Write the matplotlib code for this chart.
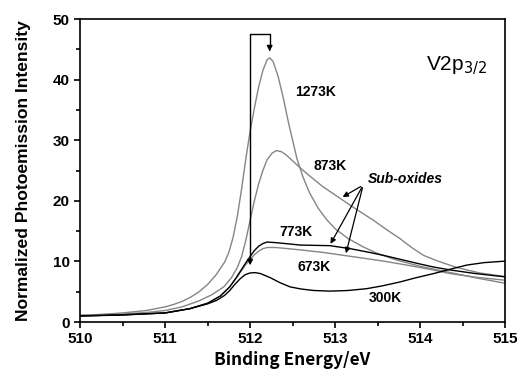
import matplotlib
matplotlib.use("Agg")
from matplotlib import pyplot as plt
from matplotlib.ticker import MultipleLocator

# Binding energies and intensities (per curve)
e_1273 = [510.0, 510.3, 510.5, 510.78, 511.0, 511.1, 511.2, 511.3, 511.4, 511.5,
          511.6, 511.7, 511.75, 511.8, 511.85, 511.9, 511.95, 512.0, 512.05, 512.1,
          512.15, 512.2, 512.23, 512.27, 512.33, 512.39, 512.45, 512.5, 512.55, 512.62,
          512.7, 512.8, 512.9, 513.0, 513.15, 513.33, 513.5, 513.73, 514.0, 514.31,
          514.65, 515.0]
i_1273 = [1.1, 1.3, 1.5, 1.9, 2.5, 2.9, 3.4, 4.1, 5.0, 6.2,
          7.8, 9.9, 11.5, 14.0, 17.5, 22.0, 27.0, 31.5, 35.3, 38.8,
          41.5, 43.3, 43.6, 43.0, 40.5, 37.0, 33.0, 30.0, 27.0, 24.0,
          21.3, 18.8, 16.9, 15.4, 13.8, 12.4, 11.3, 10.2, 9.2, 8.3,
          7.3, 6.4]

e_873 = [510.0, 510.5, 510.8, 511.0, 511.2, 511.4, 511.55, 511.69, 511.78, 511.85,
         511.9, 511.95, 512.0, 512.05, 512.1, 512.15, 512.2, 512.26, 512.31, 512.37,
         512.43, 512.5, 512.6, 512.71, 512.85, 513.06, 513.25, 513.45, 513.6, 513.76,
         513.9, 514.04, 514.2, 514.43, 514.7, 515.0]
i_873 = [1.1, 1.3, 1.6, 1.9, 2.5, 3.5, 4.5, 5.8, 7.3, 9.0,
         10.8, 13.5, 16.8, 20.0, 22.8, 25.0, 26.8, 27.9, 28.3, 28.1,
         27.5, 26.6, 25.3, 24.0, 22.4, 20.4, 18.6, 16.8, 15.3, 13.8,
         12.3, 11.0, 10.1, 9.0, 8.1, 7.5]

e_773 = [510.0, 510.5, 511.0, 511.29, 511.5, 511.65, 511.76, 511.83, 511.9, 511.95,
         512.0, 512.05, 512.1, 512.15, 512.2, 512.3, 512.45, 512.59, 512.94, 513.18,
         513.4, 513.57, 513.75, 513.96, 514.15, 514.35, 514.65, 515.0]
i_773 = [1.0, 1.2, 1.5, 2.2, 3.1, 4.3, 5.8, 7.2, 8.7, 9.8,
         10.8, 11.8, 12.5, 12.95, 13.2, 13.1, 12.9, 12.7, 12.6, 12.1,
         11.5, 11.0, 10.4, 9.7, 9.1, 8.6, 8.0, 7.45]

e_673 = [510.0, 510.5, 511.0, 511.29, 511.5, 511.65, 511.76, 511.83, 511.9, 511.95,
         512.0, 512.05, 512.1, 512.15, 512.2, 512.3, 512.45, 512.59, 512.85, 513.1,
         513.35, 513.57, 513.76, 513.96, 514.15, 514.35, 514.65, 515.0]
i_673 = [1.0, 1.2, 1.5, 2.2, 3.1, 4.3, 5.8, 7.1, 8.5, 9.5,
         10.3, 11.1, 11.7, 12.1, 12.3, 12.3, 12.1, 11.9, 11.5, 11.0,
         10.5, 10.05, 9.6, 9.1, 8.6, 8.0, 7.4, 6.9]

e_300 = [510.0, 510.5, 511.0, 511.29, 511.5, 511.61, 511.7, 511.76, 511.82, 511.88,
         511.94, 512.0, 512.06, 512.12, 512.24, 512.35, 512.47, 512.6, 512.75, 512.94,
         513.15, 513.37, 513.55, 513.76, 513.95, 514.16, 514.35, 514.55, 514.75, 515.0]
i_300 = [1.0, 1.15, 1.5, 2.2, 3.0, 3.6, 4.4, 5.2, 6.2, 7.1,
         7.8, 8.1, 8.15, 8.0, 7.3, 6.5, 5.8, 5.45, 5.2, 5.1,
         5.2, 5.5, 5.95, 6.6, 7.3, 8.0, 8.7, 9.4, 9.8, 10.05]

gray = "#858585"
arial = dict(family="Liberation Sans", stretch="normal")

fig = plt.figure(figsize=(5.17, 3.74), dpi=100)
ax = fig.add_axes([0.155, 0.139, 0.822, 0.810])

ax.plot(e_1273, i_1273, color=gray, lw=1.0)
ax.plot(e_873, i_873, color=gray, lw=1.0)
ax.plot(e_673, i_673, color=gray, lw=1.0)
ax.plot(e_773, i_773, color="black", lw=1.0)
ax.plot(e_300, i_300, color="black", lw=1.0)

# bracket with arrows at both ends
ax.plot([512.0, 512.0, 512.23, 512.23], [10.5, 47.6, 47.6, 45.5], color="black", lw=1.0)
ax.annotate("", xy=(512.23, 44.2), xytext=(512.23, 45.6),
            arrowprops=dict(arrowstyle="-|>", color="black", lw=1.0, mutation_scale=8))
ax.annotate("", xy=(512.0, 8.9), xytext=(512.0, 10.6),
            arrowprops=dict(arrowstyle="-|>", color="black", lw=1.0, mutation_scale=8))

lab = dict(fontsize=10, fontweight="bold", va="center", **arial)
ax.text(512.53, 37.9, "1273K", **lab)
ax.text(512.74, 25.8, "873K", **lab)
ax.text(512.35, 14.8, "773K", **lab)
ax.text(512.56, 9.1, "673K", **lab)
ax.text(513.39, 4.0, "300K", **lab)
ax.text(513.39, 23.6, "Sub-oxides", fontsize=10, fontweight="bold", style="italic",
        va="center", **arial)
ax.text(514.79, 42.3, r"V2p$_{3/2}$", fontsize=15, ha="right", va="center", **arial)

# sub-oxide arrows
for tip in [(513.06, 20.4), (512.93, 12.5), (513.12, 10.9)]:
    ax.annotate("", xy=tip, xytext=(513.33, 22.6),
                arrowprops=dict(arrowstyle="-|>", color="black", lw=0.9, mutation_scale=8))

ax.set_xlim(510, 515)
ax.set_ylim(0, 50)
ax.xaxis.set_major_locator(MultipleLocator(1))
ax.xaxis.set_minor_locator(MultipleLocator(0.5))
ax.yaxis.set_major_locator(MultipleLocator(10))
ax.yaxis.set_minor_locator(MultipleLocator(5))
ax.tick_params(which="major", direction="out", length=4, width=1.2)
ax.tick_params(which="minor", direction="out", length=3, width=1.2)
for s in ax.spines.values():
    s.set_linewidth(1.2)
for t in ax.get_xticklabels() + ax.get_yticklabels():
    t.set_fontweight("bold")
    t.set_fontsize(11)
    t.set_family("Liberation Sans")
    t.set_stretch("normal")

ax.set_ylabel("Normalized Photoemission Intensity", fontsize=12.6, fontweight="bold", **arial)
ax.yaxis.set_label_coords(-0.115, 0.5)
ax.set_xlabel("Binding Energy/eV", fontsize=12.4, fontweight="bold",
              family=["Noto Sans CJK JP", "DejaVu Sans"])
ax.xaxis.set_label_coords(0.5, -0.095)

fig.savefig("out.png", dpi=100)
